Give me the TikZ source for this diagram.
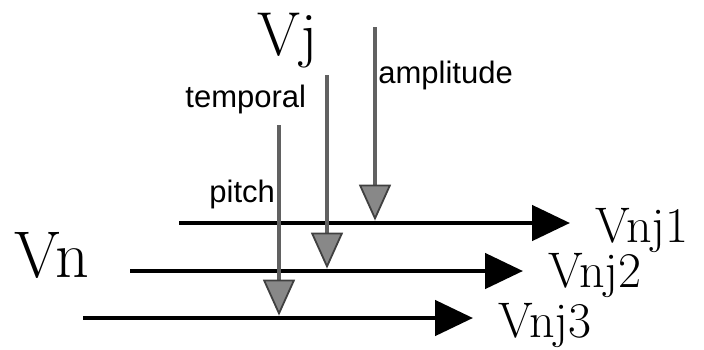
\documentclass[tikz,border=0pt]{standalone}
\usepackage{fontspec}
\newfontfamily\cuefont{Liberation Sans}
\usetikzlibrary{arrows.meta}
\definecolor{shade}{gray}{0.38}

\begin{document}
\begin{tikzpicture}[x=0.5pt, y=-0.5pt,
    flow/.style={line width=2.4pt, shorten >=12.5pt, -{Triangle[length=19pt, width=17.5pt]}},
    cue/.style={draw=shade, line width=2.4pt, shorten >=1.2pt,
      -{Triangle[length=18pt, width=16pt, color=black!75, fill=shade!75, line width=0.9pt]}},
    big/.style={inner sep=0pt, anchor=base west},
    lbl/.style={inner sep=0pt, anchor=base west, font=\cuefont\fontsize{15.5}{15.5}\selectfont}]
  \useasboundingbox (0,0) rectangle (704,349);

  % sources
  \node[big, font=\fontsize{31}{31}\selectfont] (vj) at (257,55) {Vj};
  \node[big, font=\fontsize{33}{33}\selectfont] (vn) at (14,277) {Vn};

  % outputs
  \node[big, font=\fontsize{25}{25}\selectfont] (o1) at (595,242) {Vnj1};
  \node[big, font=\fontsize{25}{25}\selectfont] (o2) at (548,287) {Vnj2};
  \node[big, font=\fontsize{25}{25}\selectfont] (o3) at (498,337) {Vnj3};

  % dimension labels
  \node[lbl] (amp) at (378,83) {amplitude};
  \node[lbl] (tmp) at (185,107) {temporal};
  \node[lbl] (pch) at (209,202) {pitch};

  % streams
  \coordinate (s1) at (179,223);
  \coordinate (s2) at (130,271);
  \coordinate (s3) at (83,318);
  \draw[flow] (s1) -- (s1 -| o1.west);
  \draw[flow] (s2) -- (s2 -| o2.west);
  \draw[flow] (s3) -- (s3 -| o3.west);

  % cues from Vj
  \coordinate (ca) at (375,27);
  \coordinate (cm) at (327,75);
  \coordinate (ct) at (279,125);
  \draw[cue] (ca) -- (ca |- s1);
  \draw[cue] (cm) -- (cm |- s2);
  \draw[cue] (ct) -- (ct |- s3);
\end{tikzpicture}
\end{document}
